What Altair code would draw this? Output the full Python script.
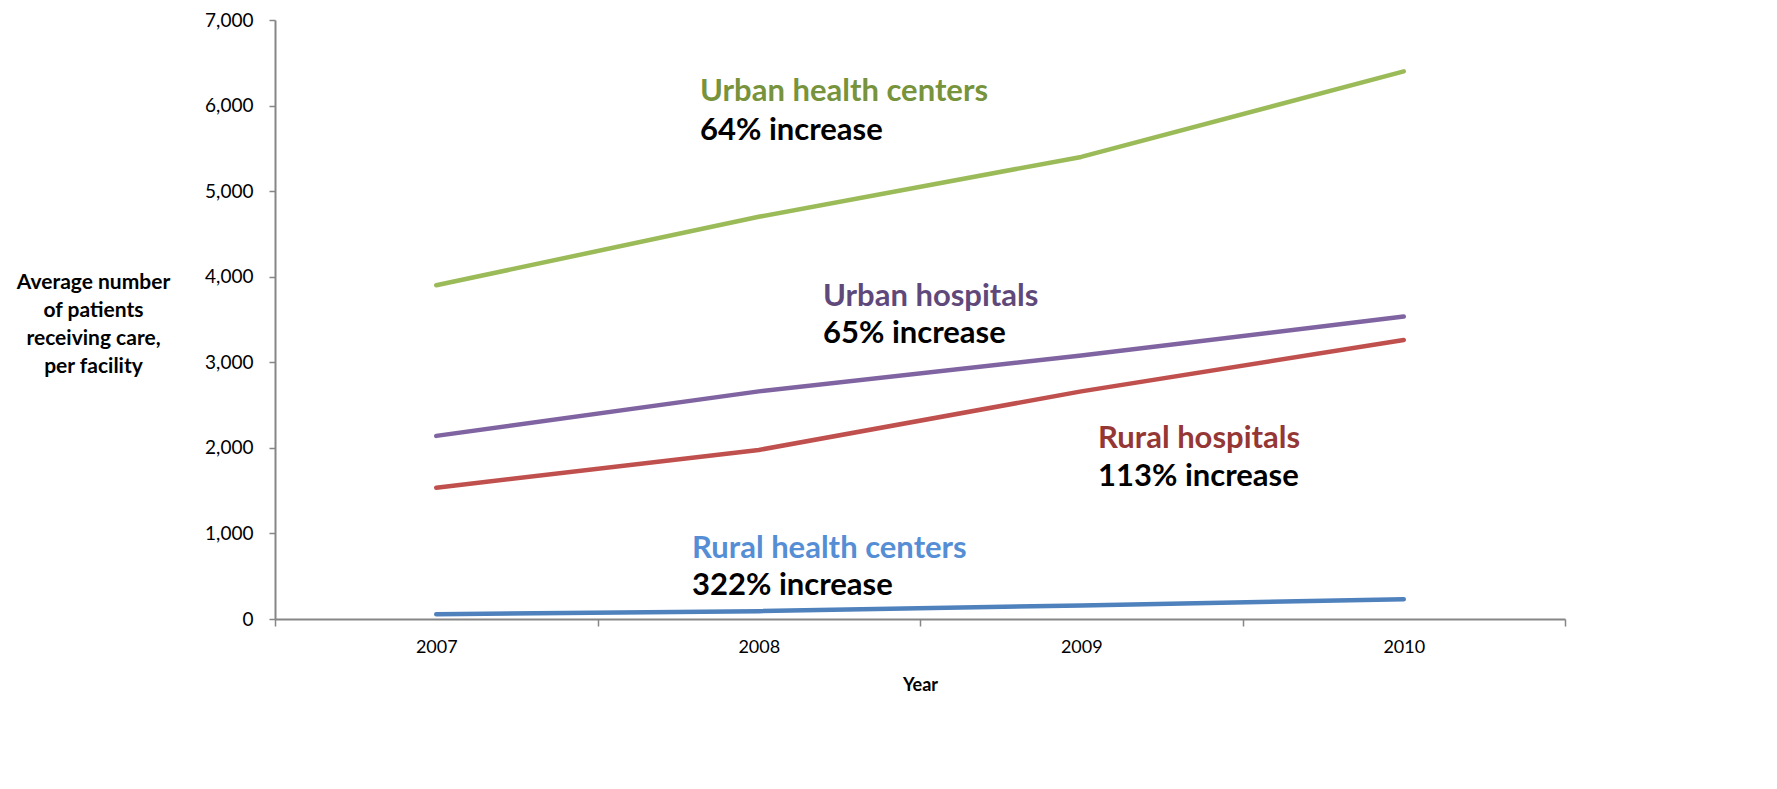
import altair as alt
import pandas as pd

years = ["2007", "2008", "2009", "2010"]
series_names = ["Urban health centers", "Urban hospitals", "Rural hospitals", "Rural health centers"]
urban_health_centers = [3900, 4700, 5400, 6400]
urban_hospitals = [2140, 2660, 3080, 3535]
rural_hospitals = [1535, 1975, 2660, 3260]
rural_health_centers = [55, 92, 158, 232]
line_colors = ["#9BBB59", "#8064A2", "#C0504D", "#4F81BD"]
label_colors = ["#77933C", "#5F497A", "#953735", "#558ED5"]
increase_labels = ["64% increase", "65% increase", "113% increase", "322% increase"]

rows = []
for name, vals in zip(series_names, [urban_health_centers, urban_hospitals, rural_hospitals, rural_health_centers]):
    for y, v in zip(years, vals):
        rows.append({"Year": y, "Series": name, "Value": v})
df = pd.DataFrame(rows)

FONT = "Lato"
W, H = 1290, 599

lines = alt.Chart(df).mark_line(strokeWidth=4.5, interpolate="linear", strokeCap="round", strokeJoin="round").encode(
    x=alt.X("Year:O", bandPosition=0.5,
            scale=alt.Scale(type="band", domain=years, paddingInner=0, paddingOuter=0),
            axis=alt.Axis(title="Year", labelAngle=0, tickBand="extent", tickSize=7,
                          labelPadding=12, labelFontSize=18, labelFont=FONT, labelColor="#000000",
                          titleFont=FONT, titleFontSize=18, titleFontWeight="bold", titleColor="#000000",
                          titleBaseline="middle", titleY=66,
                          domainColor="#868686", tickColor="#868686", domainWidth=2, tickWidth=1.5,
                          grid=False)),
    y=alt.Y("Value:Q", scale=alt.Scale(domain=[0, 7000], nice=False),
            axis=alt.Axis(values=list(range(0, 7001, 1000)), format=",.0f", tickSize=6, labelPadding=16,
                          labelFontSize=19, labelFont=FONT, labelColor="#000000",
                          title=["Average number", "of patients", "receiving care,", "per facility"],
                          titleAngle=0, titleAlign="center", titleBaseline="middle",
                          titleX=-182, titleY=262, titleLineHeight=28,
                          titleFont=FONT, titleFontSize=21, titleFontWeight="bold", titleColor="#000000",
                          domainColor="#868686", tickColor="#868686", domainWidth=2, tickWidth=1.5,
                          grid=False)),
    color=alt.Color("Series:N", scale=alt.Scale(domain=series_names, range=line_colors), legend=None),
    detail="Series:N",
)

# annotation positions (pixels within plot area)
ann_x = [425, 548, 823, 417]
ann_y_name = [81, 286, 428, 538]
ann_y_inc = [120, 323, 466, 575]

one_row = alt.Data(values=[{}])
layers = [lines]
for i in range(4):
    layers.append(alt.Chart(one_row).mark_text(text=series_names[i], align="left", baseline="alphabetic",
                                               font=FONT, fontSize=31, fontWeight="bold", color=label_colors[i]
                                               ).encode(x=alt.value(ann_x[i]), y=alt.value(ann_y_name[i])))
    layers.append(alt.Chart(one_row).mark_text(text=increase_labels[i], align="left", baseline="alphabetic",
                                               font=FONT, fontSize=31, fontWeight="bold", color="#000000"
                                               ).encode(x=alt.value(ann_x[i]), y=alt.value(ann_y_inc[i])))

chart = alt.layer(*layers).properties(
    width=W, height=H,
    autosize=alt.AutoSizeParams(type="none"),
    padding={"left": 267, "top": 12, "right": 190, "bottom": 160},
).configure(background="white").configure_view(stroke=None, strokeWidth=0)

chart.save("out.html", embed_options={"renderer": "svg", "actions": False})
